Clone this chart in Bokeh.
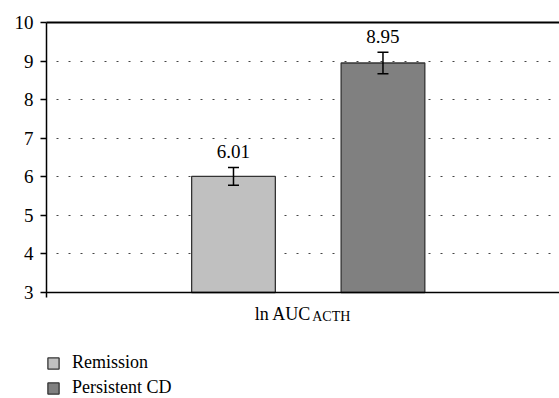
from bokeh.plotting import figure
from bokeh.models import (Range1d, FixedTicker, LinearAxis, Whisker, TeeHead, ColumnDataSource,
                          Legend, LegendItem, Label, LabelSet, Span)
from bokeh.embed import file_html
from bokeh.resources import INLINE

# ---- data ----
groups = ["Remission", "Persistent CD"]
means = [6.01, 8.95]
errors = [0.23, 0.28]
colors = ["#c0c0c0", "#808080"]
labels = ["6.01", "8.95"]
y_ticks = [3, 4, 5, 6, 7, 8, 9, 10]
grid_ticks = [4, 5, 6, 7, 8, 9]
category_label = "ln AUC"
category_sub = "ACTH"

FONT = "Liberation Serif"

xpos = [1, 2]
x_lo, x_hi = -0.251, 3.181
y_base, y_top = 3, 10
y_view_lo = 0.252   # frame extends below the axis baseline to hold label + legend

src = ColumnDataSource(dict(
    x=xpos, top=means, upper=[m + e for m, e in zip(means, errors)],
    lower=[m - e for m, e in zip(means, errors)], color=colors, label=labels, name=groups))

p = figure(width=559, height=398, output_backend="svg", toolbar_location=None,
           x_range=Range1d(x_lo, x_hi), y_range=Range1d(y_view_lo, y_top),
           x_axis_location=None,
           min_border_left=46, min_border_right=0, min_border_top=22, min_border_bottom=0)
p.outline_line_color = None
p.background_fill_color = "white"
p.border_fill_color = "white"

# bars
renderers = []
for i in range(len(groups)):
    r = p.vbar(x=[xpos[i]], top=[means[i]], bottom=y_base, width=0.56,
               fill_color=colors[i], line_color="#333333", line_width=1.3)
    renderers.append(r)

# error bars
w = Whisker(source=src, base="x", upper="upper", lower="lower",
            line_color="black", line_width=1.5, level="overlay",
            upper_head=TeeHead(size=11, line_color="black", line_width=1.5),
            lower_head=TeeHead(size=11, line_color="black", line_width=1.5))
p.add_layout(w)

# value labels
p.add_layout(LabelSet(x="x", y="upper", text="label", source=src, text_align="center",
                      text_baseline="alphabetic", y_offset=9.5, text_font_size="19px",
                      text_font=FONT, text_color="black", level="overlay"))

# y axis (line extends slightly below baseline as the small tick)
yaxis = p.yaxis[0]
yaxis.ticker = FixedTicker(ticks=y_ticks)
yaxis.bounds = (y_base - 0.13, y_top)
yaxis.major_tick_out = 6
yaxis.major_tick_in = 0
yaxis.minor_tick_out = 0
yaxis.minor_tick_in = 0
yaxis.axis_line_width = 1.5
yaxis.major_tick_line_width = 1.5
yaxis.major_label_text_font = FONT
yaxis.major_label_text_font_size = "19px"
yaxis.major_label_text_color = "black"
yaxis.major_label_standoff = 7

# baseline (x axis line)
p.add_layout(Span(location=y_base, dimension="width", line_color="black", line_width=1.5,
                  level="overlay"))

top_axis = LinearAxis(ticker=FixedTicker(ticks=[]), axis_line_width=2.2,
                      major_tick_out=0, major_tick_in=0, minor_tick_out=0, minor_tick_in=0,
                      major_label_text_font_size="0px", major_label_standoff=0)
p.add_layout(top_axis, "above")

# grid
p.xgrid.grid_line_color = None
p.ygrid.ticker = FixedTicker(ticks=grid_ticks)
p.ygrid.grid_line_color = "#444444"
p.ygrid.grid_line_width = 1.2
p.ygrid.grid_line_dash = "2 10"
p.ygrid.grid_line_dash_offset = -10

# category label with subscript
mid = sum(xpos) / len(xpos)
p.add_layout(Label(x=mid, y=y_base, text=category_label, text_align="right",
                   text_baseline="alphabetic", y_offset=-21, x_offset=3,
                   text_font=FONT, text_font_size="18px", text_color="black"))
p.add_layout(Label(x=mid, y=y_base, text=category_sub, text_align="left",
                   text_baseline="alphabetic", y_offset=-24, x_offset=4,
                   text_font=FONT, text_font_size="14px", text_color="black"))

# legend
legend = Legend(items=[LegendItem(label=groups[i], renderers=[renderers[i]]) for i in range(len(groups))],
                location=(0, 0), orientation="vertical",
                label_text_font=FONT, label_text_font_size="18px", label_text_color="black",
                glyph_width=14, glyph_height=14, label_standoff=12, spacing=4,
                padding=0, margin=0, border_line_color=None, background_fill_alpha=0)
p.add_layout(legend, "center")

open("out.html", "w").write(file_html(p, INLINE))
